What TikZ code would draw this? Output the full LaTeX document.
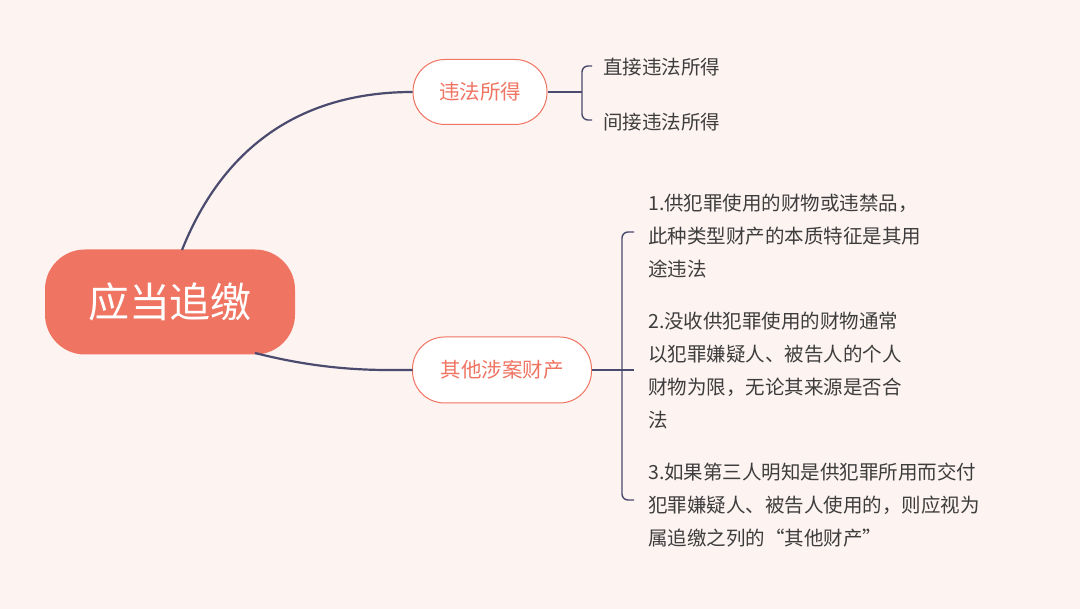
\documentclass[tikz,border=0pt]{standalone}
\usepackage{fontspec}
\setmainfont{Noto Sans CJK SC}
\begin{document}
\begin{tikzpicture}[x=1pt,y=-1pt,
  conn/.style={draw=lineC,line width=2.2pt},
  brace/.style={draw=lineC,line width=1.4pt,rounded corners=6pt},
  topic/.style={draw=salm,fill=white,line width=1pt,rounded corners=32pt,text=salm,font=\fontsize{20.5}{24}\selectfont,inner sep=0pt},
  leaf/.style={anchor=west,align=left,text=txtC,font=\fontsize{19.5}{33}\selectfont,inner sep=0pt}]
\definecolor{bgC}{HTML}{FDF3F1}
\definecolor{salm}{HTML}{F07462}
\definecolor{lineC}{HTML}{4A4B6E}
\definecolor{txtC}{HTML}{3D3D3D}
\fill[bgC] (0,0) rectangle (1080,609);
\useasboundingbox (0,0) rectangle (1080,609);
\node[fill=salm,rounded corners=40pt,minimum width=250pt,minimum height=105pt,text=white,font=\fontsize{41}{45}\selectfont] (root) at (170,302) {应当追缴};
\node[topic,minimum width=134pt,minimum height=65pt] (a) at (480,92) {违法所得};
\node[topic,minimum width=179pt,minimum height=66pt] (b) at (502,370) {其他涉案财产};
\coordinate (rt) at (182,250);
\coordinate (rb) at (255,353);
\draw[conn] (rt) .. controls (230,130) and (320,92) .. (a.west);
\draw[conn] (rb) .. controls (330,372) and (380,370) .. (a.west |- b.west);
% bracket 1
\coordinate (ba) at (582,92);
\draw[brace,line width=1.6pt] (a.east) -- (ba);
\draw[brace] (592,66) -- (582,66) -- (582,120) -- (592,120);
\node[leaf] (a1) at (603,67) {直接违法所得};
\node[leaf] (a2) at (603,122) {间接违法所得};
% bracket 2
\coordinate (bb) at (634,370);
\draw[brace,line width=1.6pt] (b.east) -- (bb);
\draw[brace] (634,232) -- (622,232) -- (622,500) -- (634,500);
\node[leaf] (b1) at (648,236) {1.供犯罪使用的财物或违禁品，\\此种类型财产的本质特征是其用\\途违法};
\node[leaf] (b2) at (648,371) {2.没收供犯罪使用的财物通常\\以犯罪嫌疑人、被告人的个人\\财物为限，无论其来源是否合\\法};
\node[leaf] (b3) at (648,505) {3.如果第三人明知是供犯罪所用而交付\\犯罪嫌疑人、被告人使用的，则应视为\\属追缴之列的“其他财产”};
\end{tikzpicture}
\end{document}
